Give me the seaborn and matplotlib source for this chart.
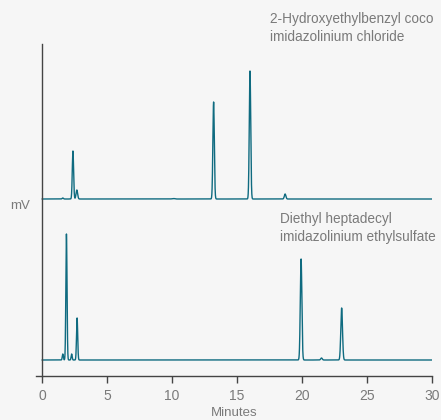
import numpy as np
import pandas as pd
import matplotlib
matplotlib.use("Agg")
import matplotlib.pyplot as plt
import seaborn as sns

# Peak table (retention time in minutes, height above baseline, width sigma)
top_rt = [1.6, 2.38, 2.68, 10.1, 13.2, 16.0, 18.7]
top_height = [1.0, 48, 9, 0.5, 97, 128, 5]
top_sigma = [0.05, 0.05, 0.06, 0.1, 0.055, 0.055, 0.06]
top_baseline = 177

bot_rt = [1.6, 1.88, 2.28, 2.7, 19.93, 21.5, 23.05]
bot_height = [6, 126, 6, 42, 101, 2, 52]
bot_sigma = [0.04, 0.045, 0.04, 0.045, 0.06, 0.06, 0.065]
bot_baseline = 16

x_ticks = [0, 5, 10, 15, 20, 25, 30]

t = np.linspace(0, 30, 6001)


def trace(rts, hs, ss, base):
    y = np.full_like(t, float(base))
    for r, h, s in zip(rts, hs, ss):
        y += h * np.exp(-0.5 * ((t - r) / s) ** 2)
    return y


df = pd.concat([
    pd.DataFrame({"Minutes": t, "mV": trace(top_rt, top_height, top_sigma, top_baseline), "run": "top"}),
    pd.DataFrame({"Minutes": t, "mV": trace(bot_rt, bot_height, bot_sigma, bot_baseline), "run": "bottom"}),
])

sns.set_style("white")
plt.rcParams["font.family"] = ["Liberation Sans", "DejaVu Sans"]
bg = "#f6f6f6"
gray = "#7a7a7a"
teal = "#0f6b80"

fig = plt.figure(figsize=(4.41, 4.20), dpi=100, facecolor=bg)
ax = fig.add_axes([35.5 / 441, 44 / 420, 396.5 / 441, 332 / 420], facecolor=bg)

sns.lineplot(data=df, x="Minutes", y="mV", units="run", estimator=None,
             color=teal, linewidth=1.0, ax=ax, legend=False)

ax.set_xlim(-0.5, 30)
ax.set_ylim(0, 332)
ax.spines["top"].set_visible(False)
ax.spines["right"].set_visible(False)
ax.spines["left"].set_position(("data", 0))
for s in ("left", "bottom"):
    ax.spines[s].set_color("#444444")
    ax.spines[s].set_linewidth(1.0)
ax.set_xticks(x_ticks)
ax.set_xticklabels([str(v) for v in x_ticks])
ax.tick_params(axis="x", direction="out", length=5, width=1, color="#444444",
               labelcolor=gray, labelsize=10, pad=4, bottom=True)
ax.set_yticks([])
ax.set_xlabel("Minutes", color=gray, fontsize=9.5, labelpad=3)
ax.set_ylabel("")

fig.text(10 / 441, 1 - 206 / 420, "mV", color=gray, fontsize=9.5, ha="left", va="center")
fig.text(270 / 441, 1 - 28 / 420, "2-Hydroxyethylbenzyl coco\nimidazolinium chloride",
         color=gray, fontsize=9.8, ha="left", va="center", linespacing=1.3)
fig.text(280 / 441, 1 - 228 / 420, "Diethyl heptadecyl\nimidazolinium ethylsulfate",
         color=gray, fontsize=9.8, ha="left", va="center", linespacing=1.3)

fig.savefig("out.png", dpi=100, facecolor=bg)
